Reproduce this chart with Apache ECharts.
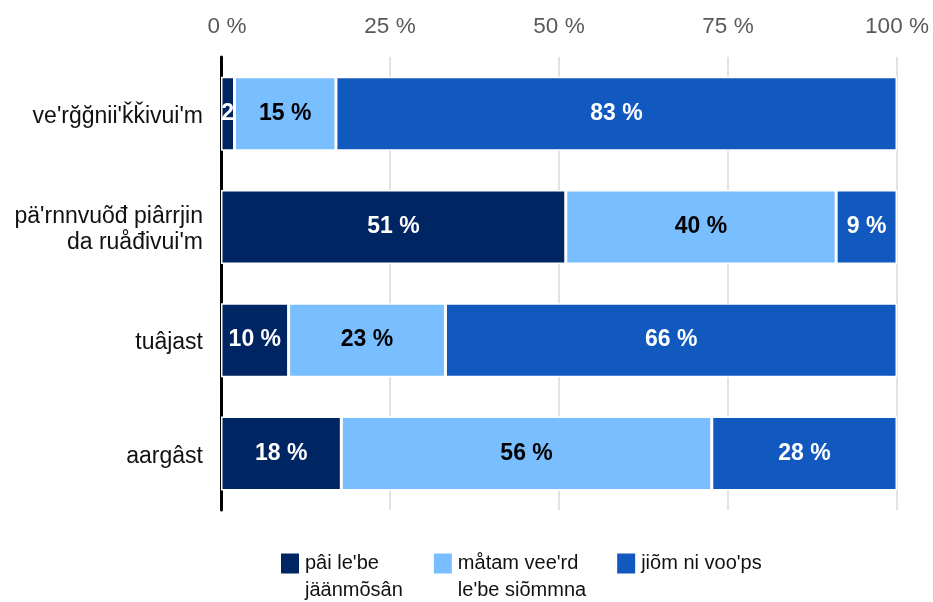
<!DOCTYPE html>
<html>
<head>
<meta charset="utf-8">
<script src="https://cdn.jsdelivr.net/npm/echarts@6/dist/echarts.min.js"></script>
<style>
html,body{margin:0;padding:0;background:#fff;}
#main{width:933px;height:602px;}
</style>
</head>
<body>
<div id="main"></div>
<script>
// kategoriat ja arvot
var categories = ["ve'rğğnii'ǩǩivui'm", "pä'rnnvuõđ piârrjin\nda ruåđivui'm", "tuâjast", "aargâst"];
var seriesNames = ["pâi le'be jäänmõsân", "måtam vee'rd le'be siõmmna", "jiõm ni voo'ps"];
var legendText = ["\u00a0\npâi le'be\njäänmõsân", "\u00a0\nmåtam vee'rd\nle'be siõmmna", "jiõm ni voo'ps"];
var aina = [2, 51, 10, 17.8];
var joskus = [15, 40, 23.2, 54.8];
var eiKoskaan = [83, 9, 66.8, 27.4];
var ainaLabels = ['2', '51 %', '10 %', '18 %'];
var joskusLabels = ['15 %', '40 %', '23 %', '56 %'];
var eiKoskaanLabels = ['83 %', '9 %', '66 %', '28 %'];
var xTicks = [0, 25, 50, 75, 100];
var colors = ['#002563', '#79BEFF', '#1159BE'];

var font = 'Liberation Sans, Arial, sans-serif';
var myChart = echarts.init(document.getElementById('main'));

function mkSeries(i, data, labels, labelColor) {
    return {
        name: seriesNames[i],
        type: 'bar',
        stack: 'all',
        barWidth: 74,
        data: data,
        itemStyle: {color: colors[i], borderColor: '#fff', borderWidth: 1.5},
        label: {
            show: true,
            position: 'inside',
            color: labelColor,
            fontFamily: font,
            fontSize: 23,
            fontWeight: 'bold',
            formatter: function (p) { return labels[p.dataIndex]; }
        }
    };
}

var option = {
    animation: false,
    color: colors,
    grid: {left: 221, right: 36, top: 57, bottom: 92},
    legend: {
        left: 274,
        top: 518,
        itemWidth: 20,
        itemHeight: 22,
        itemGap: 29,
        icon: 'rect',
        data: seriesNames,
        formatter: function (name) { return legendText[seriesNames.indexOf(name)]; },
        textStyle: {fontFamily: font, fontSize: 20, color: '#111', lineHeight: 27}
    },
    xAxis: {
        type: 'value',
        position: 'top',
        min: 0,
        max: 100,
        interval: 25,
        axisLine: {show: false},
        axisTick: {show: false},
        splitLine: {lineStyle: {color: '#d9d9d9', width: 1.5}},
        axisLabel: {
            margin: 19,
            fontFamily: font,
            fontSize: 22.5,
            color: '#595959',
            formatter: function (v) {
                if (xTicks.indexOf(v) < 0) return '';
                return v === 0 ? '{z|' + v + ' %}' : v + ' %';
            },
            rich: {
                z: {fontFamily: font, fontSize: 22.5, color: '#595959', padding: [0, 0, 0, 12]}
            }
        }
    },
    yAxis: {
        type: 'category',
        inverse: true,
        data: categories,
        axisLine: {lineStyle: {color: '#000', width: 3}},
        axisTick: {show: false},
        axisLabel: {
            margin: 18,
            fontFamily: font,
            fontSize: 23,
            color: '#111',
            lineHeight: 26,
            formatter: function (v) {
                return v.split('\n').map(function (r) { return '{c|' + r + '}'; }).join('\n');
            },
            rich: {
                c: {fontFamily: font, fontSize: 23, color: '#111', lineHeight: 26, padding: [6, 0, 0, 0]}
            }
        }
    },
    series: [
        mkSeries(0, aina, ainaLabels, '#fff'),
        mkSeries(1, joskus, joskusLabels, '#000'),
        mkSeries(2, eiKoskaan, eiKoskaanLabels, '#fff')
    ]
};

myChart.setOption(option);
</script>
</body>
</html>
